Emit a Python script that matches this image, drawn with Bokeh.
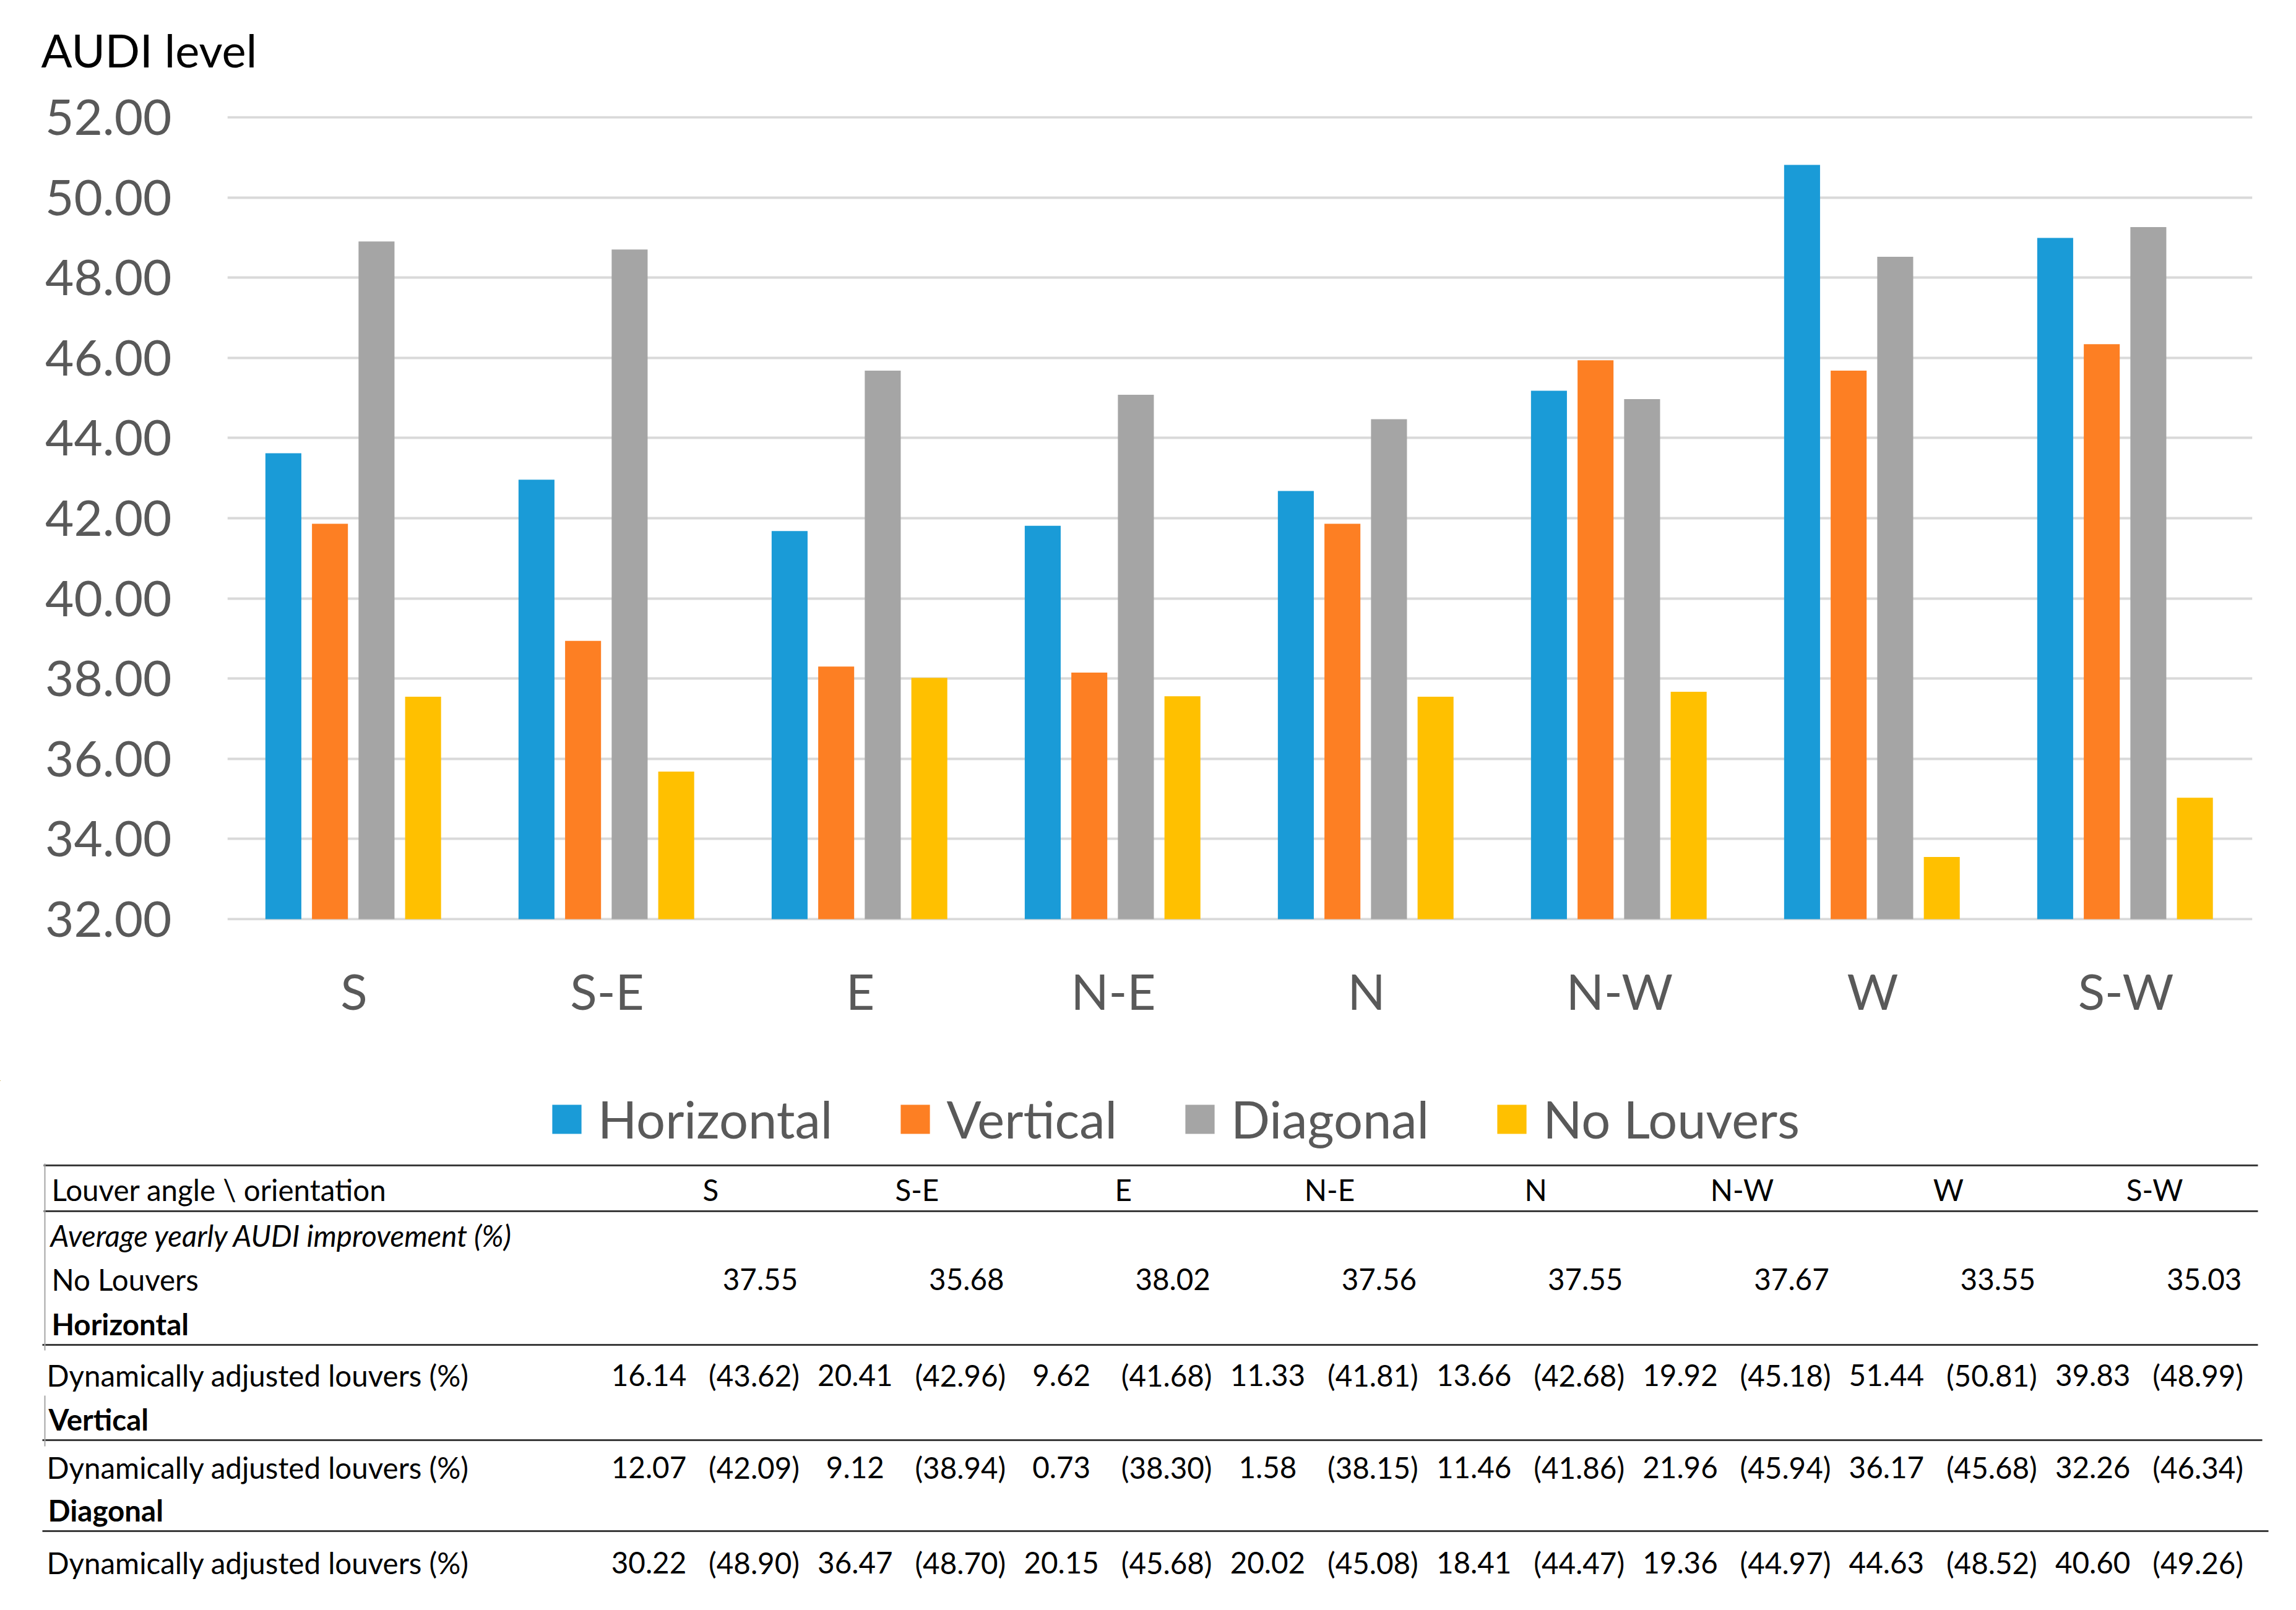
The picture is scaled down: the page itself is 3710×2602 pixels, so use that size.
from bokeh.plotting import figure
from bokeh.models import (Range1d, FactorRange, FixedTicker, NumeralTickFormatter,
                          Legend, LegendItem, ColumnDataSource)
from bokeh.transform import dodge
from bokeh.embed import file_html
from bokeh.resources import INLINE
from bokeh.core.properties import value

# ---------------- data ----------------
orientations = ["S", "S-E", "E", "N-E", "N", "N-W", "W", "S-W"]
series_names = ["Horizontal", "Vertical", "Diagonal", "No Louvers"]

horizontal = [43.62, 42.96, 41.68, 41.81, 42.68, 45.18, 50.81, 48.99]
vertical = [41.86, 38.94, 38.30, 38.15, 41.86, 45.94, 45.68, 46.34]
diagonal = [48.90, 48.70, 45.68, 45.08, 44.47, 44.97, 48.52, 49.26]
no_louvers = [37.55, 35.68, 38.02, 37.56, 37.55, 37.67, 33.55, 35.03]

y_ticks = [32, 34, 36, 38, 40, 42, 44, 46, 48, 50, 52]

chart_title = "AUDI level"

# table values
table_header = "Louver angle \\ orientation"
table_subtitle = "Average yearly AUDI improvement (%)"
row_no_louvers = "No Louvers"
row_dynamic = "Dynamically adjusted louvers (%)"
group_names = ["Horizontal", "Vertical", "Diagonal"]
h_improvement = [16.14, 20.41, 9.62, 11.33, 13.66, 19.92, 51.44, 39.83]
v_improvement = [12.07, 9.12, 0.73, 1.58, 11.46, 21.96, 36.17, 32.26]
d_improvement = [30.22, 36.47, 20.15, 20.02, 18.41, 19.36, 44.63, 40.60]
h_level = [43.62, 42.96, 41.68, 41.81, 42.68, 45.18, 50.81, 48.99]
v_level = [42.09, 38.94, 38.30, 38.15, 41.86, 45.94, 45.68, 46.34]
d_level = [48.90, 48.70, 45.68, 45.08, 44.47, 44.97, 48.52, 49.26]
nl_level = [37.55, 35.68, 38.02, 37.56, 37.55, 37.67, 33.55, 35.03]

# ---------------- style ----------------
FONT = "Lato"
W = 3700
TITLE_H = 140
CHART_H = 1606
LEGEND_H = 124
TABLE_H = 724
AXIS_COLOR = "#595959"
colors = ["#1a9bd7", "#fd7f23", "#a5a5a5", "#ffc000"]
offsets = [-0.279, -0.095, 0.089, 0.273]
bar_width = 0.142


def strip(height, xr=None, yr=None):
    f = figure(width=W, height=height,
               x_range=xr if xr is not None else Range1d(0, W),
               y_range=yr if yr is not None else Range1d(height, 0),
               output_backend="svg", toolbar_location=None, x_axis_type=None,
               y_axis_type=None, min_border=0)
    f.outline_line_color = None
    f.grid.visible = False
    return f


# ---------------- title strip ----------------
tf = strip(TITLE_H)
tf.text(x=[66], y=[80], text=[chart_title], text_font=value(FONT),
        text_font_size=value("74px"), text_color="#000000",
        text_baseline="middle", text_align="left")

# ---------------- chart ----------------
y_lo, y_hi = 31.97, 52.03
p = figure(x_range=FactorRange(factors=orientations), y_range=Range1d(y_lo, y_hi),
           width=W, height=CHART_H, output_backend="svg", toolbar_location=None,
           min_border_left=367, min_border_right=61, min_border_top=47,
           min_border_bottom=259)
p.outline_line_color = None

keys = ["horizontal", "vertical", "diagonal", "no_louvers"]
src = ColumnDataSource(dict(cat=orientations, idx=list(range(len(orientations))),
                            horizontal=horizontal, vertical=vertical,
                            diagonal=diagonal, no_louvers=no_louvers))
for key, off, c in zip(keys, offsets, colors):
    p.vbar(x=dodge("cat", off, range=p.x_range), top=key, bottom=y_ticks[0],
           width=bar_width, source=src, fill_color=c, line_color=None)

p.yaxis.ticker = FixedTicker(ticks=y_ticks)
p.yaxis.formatter = NumeralTickFormatter(format="0.00")
for ax in (p.xaxis, p.yaxis):
    ax.axis_line_color = None
    ax.major_tick_line_color = None
    ax.minor_tick_line_color = None
    ax.major_tick_out = 0
    ax.major_tick_in = 0
    ax.major_label_text_font = FONT
    ax.major_label_text_font_size = "80px"
    ax.major_label_text_color = AXIS_COLOR
p.yaxis.major_label_standoff = 90
p.xaxis.major_label_standoff = 65

p.xgrid.grid_line_color = None
p.ygrid.grid_line_color = "#d9d9d9"
p.ygrid.grid_line_width = 4

# ---------------- legend strip ----------------
# the same series drawn into a strip whose view range lies far from the data,
# so only the legend (its swatches and labels) is visible there
lf = strip(LEGEND_H, xr=Range1d(100, 101), yr=Range1d(-101, -100))
legend_renderers = [lf.vbar(x="idx", top=key, bottom=y_ticks[0], width=bar_width,
                            source=src, fill_color=c, line_color=None)
                    for key, c in zip(keys, colors)]
legend = Legend(items=[LegendItem(label=value(n), renderers=[r])
                       for n, r in zip(series_names, legend_renderers)],
                orientation="horizontal", location="left",
                label_text_font=FONT, label_text_font_size="83px",
                label_text_color=AXIS_COLOR, glyph_width=59, glyph_height=59,
                label_standoff=21, spacing=104, padding=0, margin=886,
                border_line_color=None, background_fill_alpha=0)
lf.add_layout(legend, "center")

# ---------------- table ----------------
t = strip(TABLE_H)

TFS = "47.5px"
LINE_C = "#3a3a3a"
TXT_C = "#000000"

t.segment(x0=[70, 70, 68, 68, 68], y0=[13, 87, 303, 457, 604],
          x1=[3648, 3648, 3648, 3655, 3665], y1=[13, 87, 303, 457, 604],
          line_color=LINE_C, line_width=3)
t.segment(x0=[72, 72], y0=[10, 385], x1=[72, 72], y1=[312, 467],
          line_color="#a6a6a6", line_width=2)

row_y = dict(header=52, subtitle=126, nolouvers=197, g0=269, d0=352, g1=423, d1=501,
             g2=570, d2=655)
col_step = 333.3


def txt(xs, ys, texts, align="left", style="normal"):
    t.text(x=xs, y=ys, text=texts, text_font=value(FONT), text_font_size=value(TFS),
           text_font_style=style, text_color=TXT_C, text_baseline="middle",
           text_align=align)


txt([83], [row_y["header"]], [table_header])
txt([1148 + col_step * j for j in range(8)], [row_y["header"]] * 8, orientations,
    align="center")
txt([81], [row_y["subtitle"]], [table_subtitle], style="italic")
txt([83], [row_y["nolouvers"]], [row_no_louvers])
txt([1228 + col_step * j for j in range(8)], [row_y["nolouvers"]] * 8,
    [f"{v:.2f}" for v in nl_level], align="center")

gx = [83, 78, 77]
impr = [h_improvement, v_improvement, d_improvement]
lev = [h_level, v_level, d_level]
for i, g in enumerate(group_names):
    txt([gx[i]], [row_y[f"g{i}"]], [g], style="bold")
    yy = row_y[f"d{i}"]
    txt([75], [yy], [row_dynamic])
    txt([1048 + col_step * j for j in range(8)], [yy] * 8,
        [f"{v:.2f}" for v in impr[i]], align="center")
    txt([1218 + col_step * j for j in range(8)], [yy] * 8,
        [f"({v:.2f})" for v in lev[i]], align="center")

open("out.html", "w").write(file_html([tf, p, lf, t], INLINE))
